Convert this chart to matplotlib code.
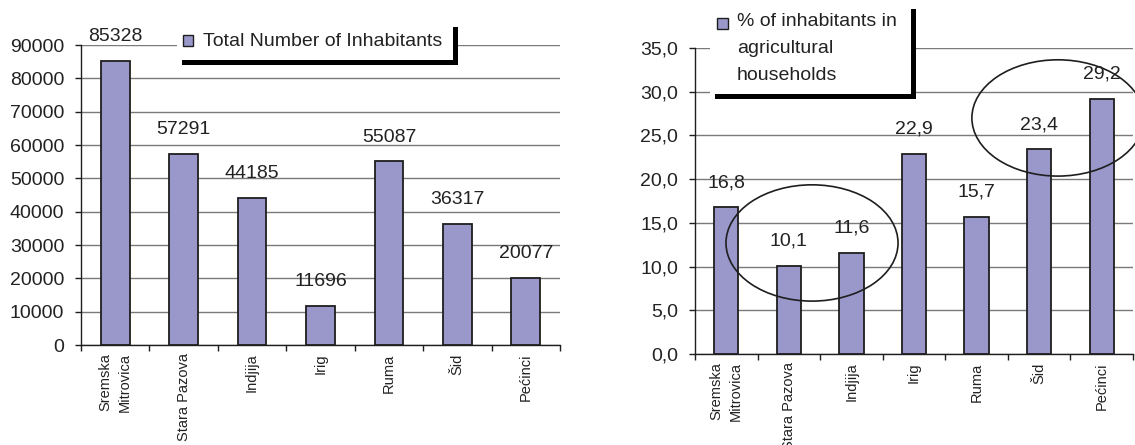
import numpy as np
import matplotlib.pyplot as plt
from matplotlib.patches import Rectangle, Ellipse

plt.rcParams['font.family'] = ['Liberation Sans', 'DejaVu Sans']

# data
places = ['Sremska\nMitrovica', 'Stara Pazova', 'Indjija', 'Irig', 'Ruma', 'Šid', 'Pećinci']
inhabitants = [85328, 57291, 44185, 11696, 55087, 36317, 20077]
agri_pct = [16.8, 10.1, 11.6, 22.9, 15.7, 23.4, 29.2]
legend_left = 'Total Number of Inhabitants'
legend_right = ['% of inhabitants in', 'agricultural', 'households']

bar_color = '#9a98cb'
edge = '#1e1e1e'
txt = '#222222'

W, H = 1135, 445
fig = plt.figure(figsize=(W / 100, H / 100), dpi=100)


def px_box(x0, y0, x1, y1):
    # pixel box (top-left origin) -> figure fraction rect
    return [x0 / W, 1 - y1 / H, (x1 - x0) / W, (y1 - y0) / H]


def px_rect(x0, y0, x1, y1, **kw):
    r = px_box(x0, y0, x1, y1)
    fig.add_artist(Rectangle((r[0], r[1]), r[2], r[3], transform=fig.transFigure, **kw))


def draw(ax, vals, ymax, step, fmt, width, xright):
    x = np.arange(len(vals))
    ax.bar(x, vals, width=width, color=bar_color, edgecolor=edge, linewidth=1.3, zorder=3)
    for xi, v in zip(x, vals):
        ax.annotate(fmt(v), (xi, v), xytext=(0, 17.5), textcoords='offset points',
                    ha='center', va='center', fontsize=14, color=txt)
    ax.set_xlim(-0.5, xright)
    ax.set_ylim(0, ymax)
    ticks = np.arange(0, ymax + step / 2, step)
    ax.set_yticks(ticks)
    ax.set_yticklabels([fmt(t) for t in ticks])
    ax.set_xticks(x)
    ax.set_xticklabels(places, rotation=90, fontsize=10.5, color=txt, multialignment='right')
    plt.setp(ax.get_xticklabels(), linespacing=1.45)
    ax.set_xticks(np.arange(-0.5, len(vals) + 0.5), minor=True)
    ax.tick_params(axis='x', which='major', length=0, pad=6)
    ax.tick_params(axis='x', which='minor', length=4, width=1, color=edge)
    ax.tick_params(axis='y', length=4, width=1, pad=8, labelsize=14, labelcolor=txt, color=edge)
    ax.yaxis.grid(True, color='#7a7a7a', linewidth=1)
    ax.set_axisbelow(True)
    for s in ['top', 'right']:
        ax.spines[s].set_visible(False)
    for s in ['left', 'bottom']:
        ax.spines[s].set_color(edge)
        ax.spines[s].set_linewidth(1)


# left chart runs past the picture edge, so cut the last category a bit
ax1 = fig.add_axes(px_box(81, 45, 560, 345))
draw(ax1, inhabitants, 90000, 10000, lambda v: str(int(v)), 0.42, 6.392)

ax2 = fig.add_axes(px_box(695, 48, 1133, 354))
draw(ax2, agri_pct, 35.0, 5.0, lambda v: ('%.1f' % v).replace('.', ','), 0.39, 6.5)

# hand drawn ellipses on the right chart
for c in [(1.37, 12.7), (5.3, 27.0)]:
    ax2.add_patch(Ellipse(c, 2.75, 13.3, fill=False, edgecolor=edge, linewidth=1.2,
                          clip_on=False, zorder=5))

# legend boxes with black shadow
px_rect(182, 27, 458, 65, facecolor='black', edgecolor='none', zorder=10)
px_rect(177, 22, 453, 60, facecolor='white', edgecolor='none', zorder=11)
px_rect(183, 35, 193, 46, facecolor=bar_color, edgecolor=edge, linewidth=1, zorder=12)
fig.text(203 / W, 1 - 41 / H, legend_left, fontsize=14, va='center', color=txt, zorder=12)

px_rect(715, 9, 916, 99, facecolor='black', edgecolor='none', zorder=10)
px_rect(710, 4, 911, 94, facecolor='white', edgecolor='none', zorder=11)
px_rect(717, 18, 728, 29, facecolor=bar_color, edgecolor=edge, linewidth=1, zorder=12)
for i, line in enumerate(legend_right):
    fig.text(737 / W, 1 - (22 + 26.5 * i) / H, line, fontsize=14, va='center', color=txt, zorder=12)

fig.savefig('out.png', dpi=100)
